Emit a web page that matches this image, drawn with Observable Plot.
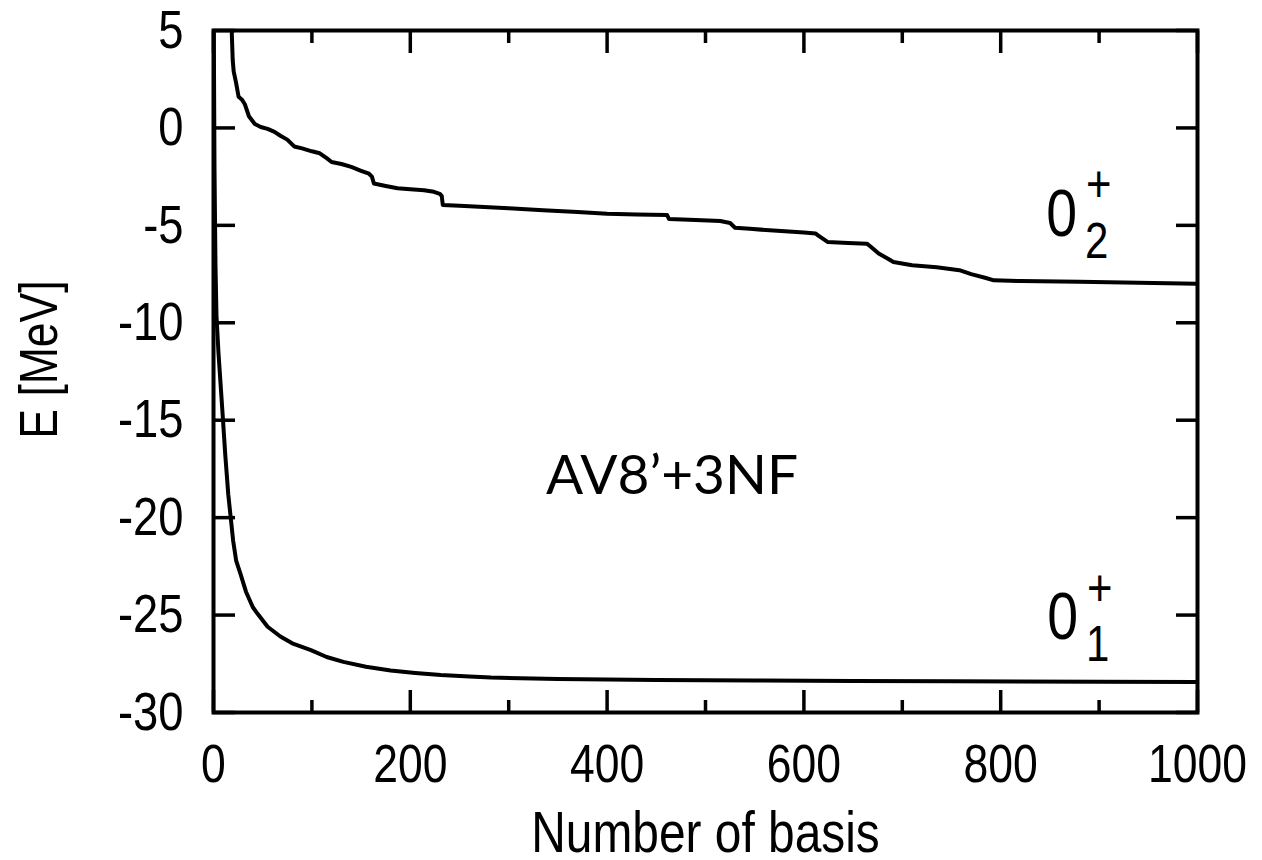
<!DOCTYPE html>
<html><head><meta charset="utf-8">
<script src="https://cdn.jsdelivr.net/npm/d3@7"></script>
<script src="https://cdn.jsdelivr.net/npm/@observablehq/plot@0.6"></script>
<style>
html,body{margin:0;padding:0;background:#fff;}
#chart svg{display:block;}
</style></head><body><div id="chart"></div>
<script>
// ---- data ----
const xMajorTicks = [0, 200, 400, 600, 800, 1000];
const xMinorTicks = [100, 300, 500, 700, 900];
const yTicks = [5, 0, -5, -10, -15, -20, -25, -30];

// 0_2^+ state
const basis02 = [18.5, 19.5, 20.5, 23, 25.5, 29, 32, 36, 42, 48, 55, 62, 68, 75, 82, 90, 100, 108, 115, 120, 130, 140, 150, 158, 161, 163, 175, 187, 200, 214, 224, 230, 232, 233, 250, 275, 300, 335, 370, 400, 430, 461, 463, 490, 515, 525, 530, 545, 573, 600, 612, 614, 624, 645, 664, 668, 676, 685, 691, 710, 735, 758, 770, 785, 793, 820, 880, 940, 1000];
const energy02 = [5, 3.5, 2.9, 2.3, 1.6, 1.45, 1.2, 0.6, 0.2, 0.05, -0.05, -0.2, -0.4, -0.6, -0.95, -1.05, -1.2, -1.3, -1.55, -1.75, -1.85, -2.0, -2.2, -2.35, -2.5, -2.85, -2.98, -3.1, -3.15, -3.2, -3.28, -3.38, -3.5, -3.95, -4.0, -4.06, -4.12, -4.22, -4.32, -4.4, -4.44, -4.47, -4.68, -4.72, -4.78, -4.88, -5.12, -5.18, -5.28, -5.37, -5.42, -5.5, -5.85, -5.9, -5.94, -6.1, -6.45, -6.7, -6.88, -7.05, -7.15, -7.3, -7.5, -7.7, -7.82, -7.86, -7.9, -7.95, -8.0];

// 0_1^+ state
const basis01 = [0.3, 1, 2, 3, 5, 7, 9, 12, 15, 17.5, 20, 23, 27.5, 33, 40, 45, 55, 68, 80, 99, 115, 132, 155, 180, 205, 231, 260, 282, 350, 450, 550, 650, 750, 900, 1000];
const energy01 = [5, -2, -7, -9.6, -11.5, -13, -14.5, -16.8, -18.8, -20, -21.2, -22.2, -22.9, -23.8, -24.6, -24.95, -25.6, -26.1, -26.45, -26.8, -27.15, -27.4, -27.65, -27.84, -27.97, -28.08, -28.15, -28.21, -28.28, -28.33, -28.36, -28.38, -28.4, -28.42, -28.43];

const xTitle = "Number of basis";
const yTitle = "E [MeV]";
const modelLabels = [{text: "AV8’+3NF", x: 466, y: -17.9}];
const stateLabels = [
  {base: "0", sub: "2", sup: "+", x: 862, y: -4.45},
  {base: "0", sub: "1", sup: "+", x: 863, y: -25.15}
];

// ---- chart ----
const SANS = "'Liberation Sans', Arial, Helvetica, sans-serif";
const upper = basis02.map((x, i) => ({x, y: energy02[i]}));
const lower = basis01.map((x, i) => ({x, y: energy01[i]}));

const chart = Plot.plot({
  width: 1262,
  height: 860,
  marginTop: 30,
  marginBottom: 148,
  marginLeft: 213,
  marginRight: 65,
  style: {fontFamily: SANS, background: "white", color: "black"},
  x: {domain: [0, 1000]},
  y: {domain: [-30, 5]},
  marks: [
    Plot.axisX({ticks: xMajorTicks, tickSize: -22, tickPadding: 54, fontSize: 53, label: null, strokeWidth: 3.5, tickFormat: d => String(d)}),
    Plot.axisX({ticks: xMinorTicks, tickSize: -12, tickFormat: () => "", label: null, strokeWidth: 3.5}),
    Plot.axisX({anchor: "top", ticks: xMajorTicks, tickSize: -22, tickFormat: () => "", label: null, strokeWidth: 3.5}),
    Plot.axisX({anchor: "top", ticks: xMinorTicks, tickSize: -12, tickFormat: () => "", label: null, strokeWidth: 3.5}),
    Plot.axisY({ticks: yTicks, tickSize: -22, tickPadding: 52, fontSize: 54, label: null, strokeWidth: 3.5, tickFormat: d => String(d)}),
    Plot.axisY({anchor: "right", ticks: yTicks, tickSize: -22, tickFormat: () => "", label: null, strokeWidth: 3.5}),
    Plot.frame({strokeWidth: 4}),
    Plot.line(upper, {x: "x", y: "y", stroke: "black", strokeWidth: 4, clip: true}),
    Plot.line(lower, {x: "x", y: "y", stroke: "black", strokeWidth: 4, clip: true}),
    Plot.text(modelLabels, {x: "x", y: "y", text: "text", fontSize: 55, fontFamily: "Lato, 'Open Sans', sans-serif"}),
    Plot.text(stateLabels, {x: "x", y: "y", text: "base", fontSize: 66}),
    Plot.text(stateLabels, {x: "x", y: "y", text: "sub", fontSize: 50, dx: 35, dy: 27}),
    Plot.text(stateLabels, {x: "x", y: "y", text: "sup", fontSize: 52, dx: 37, dy: -29}),
    Plot.text([xTitle], {frameAnchor: "bottom", textAnchor: "middle", dy: 139, fontSize: 57}),
    Plot.text([yTitle], {frameAnchor: "left", textAnchor: "middle", dx: -173, dy: -12, rotate: -90, fontSize: 53})
  ]
});
document.getElementById("chart").appendChild(chart);

// Condense the Helvetica-like glyphs, like the reference's narrow lettering
const squeeze = 0.84;
chart.querySelectorAll("text").forEach(t => {
  if (t.textContent === modelLabels[0].text || !t.textContent) return;
  const w = t.getComputedTextLength();
  if (w > 0) {
    t.setAttribute("textLength", (w * squeeze).toFixed(2));
    t.setAttribute("lengthAdjust", "spacingAndGlyphs");
  }
});
</script>
</body></html>
